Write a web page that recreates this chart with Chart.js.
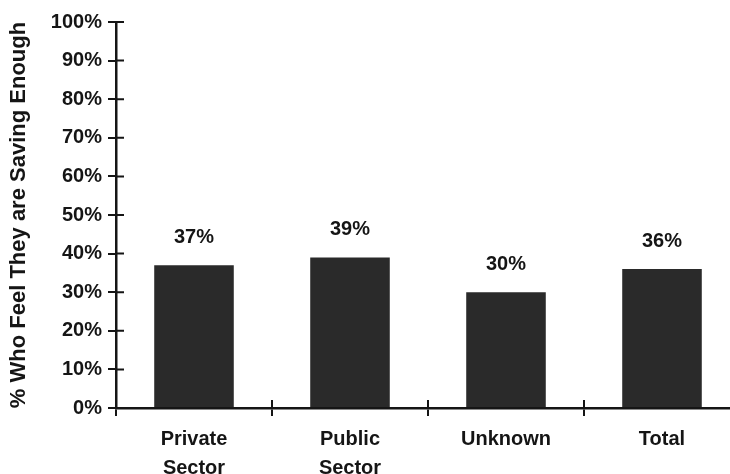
<!DOCTYPE html>
<html>
<head>
<meta charset="utf-8">
<script src="https://cdn.jsdelivr.net/npm/chart.js@4.4.1/dist/chart.umd.min.js"></script>
<style>
  html, body { margin: 0; padding: 0; background: #fff; overflow: hidden; }
  #wrap { width: 730px; height: 474px; overflow: hidden; }
  canvas { display: block; }
</style>
</head>
<body>
<div id="wrap"><canvas id="chart" width="750" height="474"></canvas></div>
<script>
// ---- data ----
const categories = [['Private', 'Sector'], ['Public', 'Sector'], 'Unknown', 'Total'];
const savingEnough = [37, 39, 30, 36];
const yTickValues = [0, 10, 20, 30, 40, 50, 60, 70, 80, 90, 100];
const yTitle = '% Who Feel They are Saving Enough';

const INK = '#151515';
const FONT = '"Liberation Sans", Arial, sans-serif';

// inner halves of the axis ticks (Chart.js only draws the outer half)
const crossTicks = {
    id: 'crossTicks',
    afterDraw(chart) {
        const { ctx, scales: { x, y } } = chart;
        ctx.save();
        ctx.strokeStyle = INK;
        ctx.lineWidth = 2;
        ctx.beginPath();
        yTickValues.forEach(v => {
            const py = y.getPixelForValue(v);
            ctx.moveTo(y.right, py);
            ctx.lineTo(y.right + 8, py);
        });
        for (let i = 1; i <= categories.length; i++) {
            const px = i < categories.length
                ? (x.getPixelForValue(i - 1) + x.getPixelForValue(i)) / 2
                : x.right;
            ctx.moveTo(px, x.top);
            ctx.lineTo(px, x.top - 8);
        }
        ctx.stroke();
        ctx.restore();
    }
};

// value labels above each bar
const barLabels = {
    id: 'barLabels',
    afterDatasetsDraw(chart) {
        const { ctx } = chart;
        const meta = chart.getDatasetMeta(0);
        ctx.save();
        ctx.fillStyle = INK;
        ctx.font = 'bold 20px ' + FONT;
        ctx.textAlign = 'center';
        ctx.textBaseline = 'bottom';
        meta.data.forEach((bar, i) => {
            ctx.fillText(savingEnough[i] + '%', bar.x, bar.y - 18);
        });
        ctx.restore();
    }
};

new Chart(document.getElementById('chart'), {
    type: 'bar',
    data: {
        labels: categories,
        datasets: [{
            data: savingEnough,
            backgroundColor: '#2a2a2a',
            borderWidth: 0,
            categoryPercentage: 1,
            barPercentage: 0.51
        }]
    },
    options: {
        responsive: false,
        animation: false,
        layout: { padding: { top: 22, right: 10, left: 0, bottom: 0 } },
        plugins: {
            legend: { display: false },
            tooltip: { enabled: false }
        },
        scales: {
            x: {
                grid: {
                    offset: true,
                    drawOnChartArea: false,
                    color: INK,
                    lineWidth: 2,
                    tickLength: 8
                },
                border: { display: true, color: INK, width: 2.5 },
                ticks: {
                    color: INK,
                    padding: 9,
                    font: { family: FONT, size: 20, weight: 'bold', lineHeight: 1.45 }
                },
                afterFit(scale) { scale.height = 66; }
            },
            y: {
                min: 0,
                max: 100,
                afterBuildTicks(scale) {
                    scale.ticks = yTickValues.map(v => ({ value: v }));
                },
                grid: {
                    drawOnChartArea: false,
                    color: INK,
                    lineWidth: 2,
                    tickLength: 8
                },
                border: { display: true, color: INK, width: 2.5 },
                ticks: {
                    color: INK,
                    padding: 6,
                    font: { family: FONT, size: 20, weight: 'bold' },
                    callback: v => v + '%'
                },
                title: {
                    display: true,
                    text: yTitle,
                    color: INK,
                    padding: { top: 6, bottom: 0 },
                    font: { family: FONT, size: 22, weight: 'bold' }
                },
                afterFit(scale) { scale.width = 116; }
            }
        }
    },
    plugins: [crossTicks, barLabels]
});
</script>
</body>
</html>
